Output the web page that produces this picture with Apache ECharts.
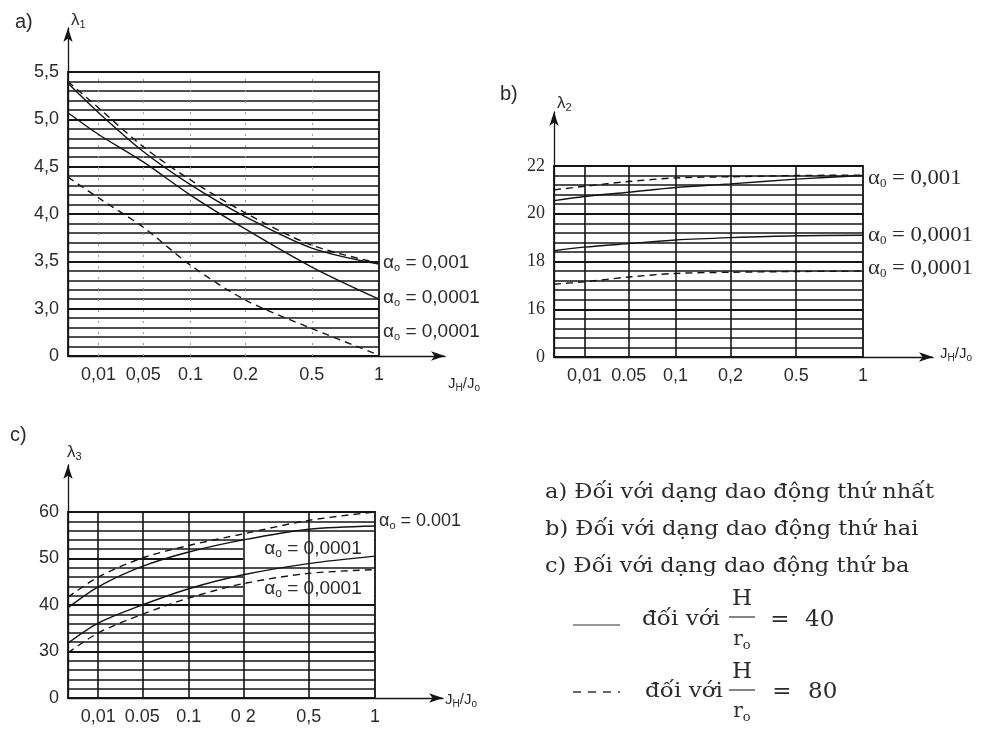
<!DOCTYPE html>
<html>
<head>
<meta charset="utf-8">
<script src="https://cdn.jsdelivr.net/npm/echarts@6/dist/echarts.min.js"></script>
<style>
html,body{margin:0;padding:0;background:#fff;}
#chart{width:985px;height:729px;}
</style>
</head>
<body>
<div id="chart"></div>
<script>
// ---- shared x scale (non-uniform J_H/J_0 axis, in axis units) ----
const xTickU = [30.5, 75, 122, 177, 243, 310];
const xSampleU = [0, 30.5, 75, 122, 177, 243, 310];
const xLabelsA = ['0,01', '0,05', '0.1', '0.2', '0.5', '1'];
const xLabelsB = ['0,01', '0.05', '0,1', '0,2', '0.5', '1'];
const xLabelsC = ['0,01', '0.05', '0.1', '0 2', '0,5', '1'];

// ---- panel a (lambda 1) ----
const yLabelsA = ['0', '3,0', '3,5', '4,0', '4,5', '5,0', '5,5'];
const aTopDashed = [5.40, 5.12, 4.71, 4.36, 4.01, 3.67, 3.48];
const aTopSolid  = [5.38, 5.07, 4.66, 4.31, 3.97, 3.64, 3.47];
const aMidSolid  = [5.07, 4.84, 4.55, 4.20, 3.84, 3.44, 3.10];
const aLowDashed = [4.39, 4.17, 3.86, 3.46, 3.09, 2.79, 2.51];

// ---- panel b (lambda 2) ----
const yLabelsB = ['0', '16', '18', '20', '22'];
const bTopDashed = [21.00, 21.15, 21.35, 21.50, 21.55, 21.60, 21.62];
const bTopSolid  = [20.55, 20.72, 20.90, 21.10, 21.25, 21.45, 21.60];
const bMidSolid  = [18.45, 18.60, 18.75, 18.90, 19.00, 19.08, 19.10];
const bLowDashed = [17.05, 17.15, 17.35, 17.50, 17.55, 17.58, 17.60];

// ---- panel c (lambda 3) ----
const yLabelsC = ['0', '30', '40', '50', '60'];
const cTopDashed = [41.7, 46.0, 50.1, 52.8, 55.3, 58.2, 60.0];
const cTopSolid  = [39.4, 43.9, 48.3, 51.4, 54.0, 56.3, 57.0];
const cLowSolid  = [31.8, 36.1, 40.0, 43.5, 46.5, 48.9, 50.5];
const cLowDashed = [29.7, 34.0, 38.0, 41.5, 44.6, 46.8, 47.6];

const INK = '#141414';
const TXT = '#2b2b2b';
const SANS = '"Liberation Sans", Arial, sans-serif';
const SERIF = '"DejaVu Serif", "Liberation Serif", serif';
const TIMES = '"Liberation Serif", "Times New Roman", serif';

const chart = echarts.init(document.getElementById('chart'), null, {renderer: 'canvas'});

function boxGrid(left, right, top, bottom) {
  return {left, right, top, bottom, show: true, borderColor: INK, borderWidth: 1.8,
          backgroundColor: 'transparent', containLabel: false, outerBoundsMode: 'none'};
}
function arrowGrid(left, right, top, bottom) {
  return {left, right, top, bottom, show: false, containLabel: false, outerBoundsMode: 'none'};
}
function boxX(gridIndex, labels, fontFamily) {
  return {
    type: 'value', gridIndex, min: 0, max: 310,
    axisLine: {show: false}, axisTick: {show: false}, splitLine: {show: false},
    axisLabel: {
      show: true, customValues: xTickU, margin: 10,
      fontFamily, fontSize: 18, color: TXT,
      formatter: v => labels[xTickU.indexOf(v)]
    }
  };
}
function boxY(gridIndex, min, max, step, labels, fontFamily) {
  return {
    type: 'value', gridIndex, min, max, interval: step,
    axisLine: {show: false}, axisTick: {show: false},
    minorTick: {show: false, splitNumber: 5},
    splitLine: {show: true, lineStyle: {color: INK, width: 1.8}},
    minorSplitLine: {show: true, lineStyle: {color: INK, width: 1.6}},
    axisLabel: {
      margin: 9, fontFamily, fontSize: 18, color: TXT,
      formatter: v => labels[Math.round((v - min) / step)]
    }
  };
}
const arrowLine = {show: true, symbol: ['none', 'arrow'], symbolSize: [7, 14],
                   lineStyle: {color: INK, width: 1.3}};
function arrX(gridIndex) {
  return {type: 'value', gridIndex, min: 0, max: 1, axisLine: arrowLine,
          axisTick: {show: false}, axisLabel: {show: false}, splitLine: {show: false}};
}
function arrY(gridIndex) {
  return {type: 'value', gridIndex, min: 0, max: 1, axisLine: arrowLine,
          axisTick: {show: false}, axisLabel: {show: false}, splitLine: {show: false}};
}

function curve(axisIndex, vals, dashed, extra) {
  const s = {
    type: 'line', xAxisIndex: axisIndex, yAxisIndex: axisIndex,
    data: xSampleU.map((u, i) => [u, vals[i]]),
    smooth: 0.3, showSymbol: false, symbol: 'none', z: 5,
    lineStyle: {color: INK, width: 1.4, type: dashed ? [7, 5] : 'solid'}
  };
  return Object.assign(s, extra || {});
}
function vLines(color, width, type) {
  return {
    silent: true, symbol: 'none', label: {show: false}, animation: false,
    lineStyle: {color, width, type},
    data: xTickU.slice(0, -1).map(u => ({xAxis: u}))
  };
}

const subRich = (family, size, subSize) => ({
  m: {fontFamily: family, fontSize: size, fill: TXT, color: TXT},
  s: {fontFamily: family, fontSize: subSize, fill: TXT, color: TXT, padding: [Math.round(size * 0.55), 0, 0, 0]}
});

function rtext(x, y, text, family, size, subSize, align, sx) {
  return {
    type: 'text', z: 20, x, y, scaleX: sx || 1,
    style: {
      x: 0, y: 0, text, fill: TXT, font: size + 'px ' + family,
      textAlign: align || 'left', align: align || 'left',
      textVerticalAlign: 'middle', verticalAlign: 'middle',
      rich: subRich(family, size, subSize)
    }
  };
}
function ptext(x, y, text, family, size, align, sx) {
  return {
    type: 'text', z: 20, x, y, scaleX: sx || 1,
    style: {x: 0, y: 0, text, fill: TXT, font: size + 'px ' + family,
            textAlign: align || 'left', align: align || 'left',
            textVerticalAlign: 'middle', verticalAlign: 'middle'}
  };
}
function hline(x1, x2, y, width, dash) {
  return {type: 'line', z: 20, shape: {x1, y1: y, x2, y2: y},
          style: {stroke: '#333', lineWidth: width, lineDash: dash || null}};
}
function whiteBox(x, y, w, h) {
  return {type: 'rect', z: 3, shape: {x, y, width: w, height: h}, style: {fill: '#fff'}};
}

const LS = 1.07; // horizontal stretch of the legend type

const option = {
  animation: false,
  backgroundColor: '#fff',
  grid: [
    boxGrid(68, 985 - 379, 72, 729 - 356),
    arrowGrid(68, 985 - 445, 28, 729 - 356),
    boxGrid(554, 985 - 863, 166, 729 - 357),
    arrowGrid(554, 985 - 933, 112, 729 - 357),
    boxGrid(68, 985 - 375, 512, 729 - 698),
    arrowGrid(68, 985 - 443, 465, 729 - 698)
  ],
  xAxis: [
    boxX(0, xLabelsA, SANS), arrX(1),
    boxX(2, xLabelsB, SANS), arrX(3),
    boxX(4, xLabelsC, SANS), arrX(5)
  ],
  yAxis: [
    boxY(0, 2.5, 5.5, 0.5, yLabelsA, SANS), arrY(1),
    boxY(2, 14, 22, 2, yLabelsB, TIMES), arrY(3),
    boxY(4, 20, 60, 10, yLabelsC, SANS), arrY(5)
  ],
  series: [
    curve(0, aTopDashed, true, {markLine: vLines('#9a9a9a', 1, [2, 9])}),
    curve(0, aTopSolid, false),
    curve(0, aMidSolid, false),
    curve(0, aLowDashed, true),
    curve(2, bTopDashed, true, {markLine: vLines(INK, 1.6, 'solid')}),
    curve(2, bTopSolid, false),
    curve(2, bMidSolid, false),
    curve(2, bLowDashed, true),
    curve(4, cTopDashed, true, {markLine: vLines(INK, 1.6, 'solid')}),
    curve(4, cTopSolid, false),
    curve(4, cLowSolid, false),
    curve(4, cLowDashed, true)
  ],
  graphic: [
    // panel a
    ptext(15, 22, 'a)', SANS, 20),
    rtext(71, 20, '{m|λ}{s|1}', SANS, 17, 11),
    rtext(448, 384, '{m|J}{s|H}{m|/J}{s|o}', SANS, 15, 10),
    rtext(383, 263, '{m|α}{s|o}{m| = 0,001}', SANS, 19, 11),
    rtext(383, 298, '{m|α}{s|o}{m| = 0,0001}', SANS, 19, 11),
    rtext(383, 332, '{m|α}{s|o}{m| = 0,0001}', SANS, 19, 11),
    // panel b
    ptext(500, 94, 'b)', SANS, 20),
    rtext(557, 103, '{m|λ}{s|2}', SANS, 17, 11),
    rtext(940, 354, '{m|J}{s|H}{m|/J}{s|o}', SANS, 15, 10),
    rtext(868, 178, '{m|α}{s|0}{m| = 0,001}', TIMES, 21, 12, 'left', 1.08),
    rtext(868, 235, '{m|α}{s|0}{m| = 0,0001}', TIMES, 21, 12, 'left', 1.08),
    rtext(868, 268, '{m|α}{s|0}{m| = 0,0001}', TIMES, 21, 12, 'left', 1.08),
    // panel c
    ptext(10, 435, 'c)', SANS, 20),
    rtext(67, 452, '{m|λ}{s|3}', SANS, 17, 11),
    rtext(445, 700, '{m|J}{s|H}{m|/J}{s|o}', SANS, 15, 10),
    rtext(379, 521, '{m|α}{s|o}{m| = 0.001}', SANS, 18, 11),
    whiteBox(243, 535, 131, 31),
    whiteBox(243, 576, 131, 27),
    rtext(313, 549, '{m|α}{s|o}{m| = 0,0001}', SANS, 19, 12, 'center'),
    rtext(313, 589, '{m|α}{s|o}{m| = 0,0001}', SANS, 19, 12, 'center'),
    // legend text
    ptext(545, 493, 'a) Đối với dạng dao động thứ nhất', SERIF, 21, 'left', LS),
    ptext(545, 530, 'b) Đối với dạng dao động thứ hai', SERIF, 21, 'left', LS),
    ptext(545, 567, 'c) Đối với dạng dao động thứ ba', SERIF, 21, 'left', LS),
    hline(573, 620, 625, 1.2),
    ptext(642, 620, 'đối với', SERIF, 21, 'left', 1.1),
    ptext(742, 599, 'H', SERIF, 23, 'center'),
    hline(729, 755, 617, 1.2),
    rtext(742, 640, '{m|r}{s|o}', SERIF, 20, 13, 'center'),
    ptext(780, 620, '=', SERIF, 23, 'center'),
    ptext(805, 620, '40', SERIF, 23),
    hline(573, 620, 692, 1.6, [8, 7]),
    ptext(645, 692, 'đối với', SERIF, 21, 'left', 1.1),
    ptext(742, 672, 'H', SERIF, 23, 'center'),
    hline(729, 755, 690, 1.2),
    rtext(742, 712, '{m|r}{s|o}', SERIF, 20, 13, 'center'),
    ptext(782, 692, '=', SERIF, 23, 'center'),
    ptext(808, 692, '80', SERIF, 23)
  ]
};
chart.setOption(option);
</script>
</body>
</html>
